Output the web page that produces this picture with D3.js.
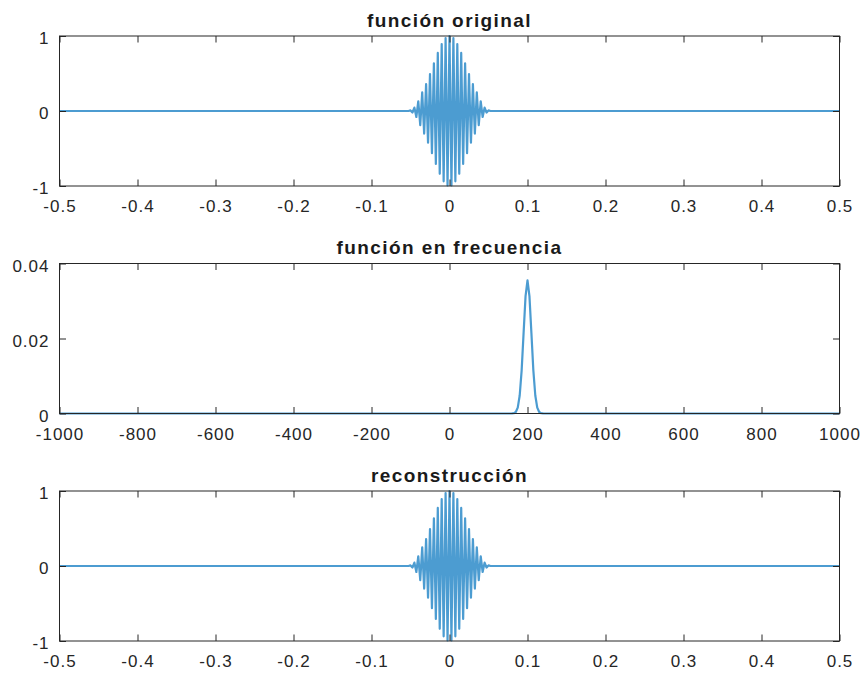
<!DOCTYPE html>
<html>
<head>
<meta charset="utf-8">
<script src="https://cdn.jsdelivr.net/npm/d3@7"></script>
<style>
  html, body { margin: 0; padding: 0; background: #ffffff; }
  svg { display: block; }
  .tick text { font-family: "Liberation Sans", Arial, sans-serif; font-size: 17px; fill: #262626; letter-spacing: 1px; }
  .title { font-family: "Liberation Sans", Arial, sans-serif; font-size: 19px; font-weight: bold; fill: #1a1a1a; letter-spacing: 1.4px; }
</style>
</head>
<body>
<svg id="fig" width="867" height="674"></svg>
<script>
// Time axis (s) of the Gaussian-windowed 200 Hz pulse, flat outside ±0.06 s
const timeSec = [
  -0.5,
  -0.06, -0.0575, -0.055, -0.0525, -0.05, -0.0475, -0.045, -0.0425, -0.04, -0.0375,
  -0.035, -0.0325, -0.03, -0.0275, -0.025, -0.0225, -0.02, -0.0175, -0.015, -0.0125,
  -0.01, -0.0075, -0.005, -0.0025, 0,
  0.0025, 0.005, 0.0075, 0.01, 0.0125, 0.015, 0.0175, 0.02, 0.0225, 0.025,
  0.0275, 0.03, 0.0325, 0.035, 0.0375, 0.04, 0.0425, 0.045, 0.0475, 0.05,
  0.0525, 0.055, 0.0575, 0.06,
  0.5
];

// Original signal amplitude at each time sample
const originalAmp = [
  0,
  0, 0, 0, 0, 0.008, -0.02, 0.045, -0.08, 0.13, -0.19,
  0.249, -0.301, 0.360, -0.423, 0.492, -0.563, 0.635, -0.706, 0.774, -0.837,
  0.893, -0.938, 0.972, -0.993, 1,
  -0.993, 0.972, -0.938, 0.893, -0.837, 0.774, -0.706, 0.635, -0.563, 0.492,
  -0.423, 0.360, -0.301, 0.249, -0.19, 0.13, -0.08, 0.045, -0.02, 0.008,
  0, 0, 0, 0,
  0
];

// Reconstructed signal (inverse transform) at the same time samples
const reconAmp = [
  0,
  0, 0, 0, 0, 0.008, -0.02, 0.045, -0.08, 0.13, -0.19,
  0.249, -0.301, 0.360, -0.423, 0.492, -0.563, 0.635, -0.706, 0.774, -0.837,
  0.893, -0.938, 0.972, -0.993, 1,
  -0.993, 0.972, -0.938, 0.893, -0.837, 0.774, -0.706, 0.635, -0.563, 0.492,
  -0.423, 0.360, -0.301, 0.249, -0.19, 0.13, -0.08, 0.045, -0.02, 0.008,
  0, 0, 0, 0,
  0
];

// Spectrum magnitude (Hz)
const freqHz = [-1000, 150, 155, 160, 165, 170, 175, 180, 185, 190, 195, 200,
  205, 210, 215, 220, 225, 230, 235, 240, 245, 250, 1000];
const spectrumMag = [0, 0, 0, 0.00001, 0.00008, 0.00039, 0.00156, 0.0048, 0.0115, 0.0215, 0.0313, 0.0355,
  0.0313, 0.0215, 0.0115, 0.0048, 0.00156, 0.00039, 0.00008, 0.00001, 0, 0, 0];

// Tick values
const timeTicks = [-0.5, -0.4, -0.3, -0.2, -0.1, 0, 0.1, 0.2, 0.3, 0.4, 0.5];
const ampTicks = [-1, 0, 1];
const freqTicks = [-1000, -800, -600, -400, -200, 0, 200, 400, 600, 800, 1000];
const magTicks = [0, 0.02, 0.04];

const panelTitles = ["función original", "función en frecuencia", "reconstrucción"];

const svg = d3.select("#fig");
const left = 59.5, right = 839.5, plotH = 150;
const tops = [36, 263.5, 491];
const lineColor = "#0072BD";
const axisColor = "#262626";
const tickLen = 6.5;

const fmt = v => String(v);

function panel(i, xs, ys, xDomain, yDomain, xTicks, yTicks) {
  const top = tops[i];
  const x = d3.scaleLinear().domain(xDomain).range([left, right]);
  const y = d3.scaleLinear().domain(yDomain).range([top + plotH, top]);
  const g = svg.append("g");

  // data line
  const pts = xs.map((t, k) => [t, ys[k]]);
  g.append("path")
    .datum(pts)
    .attr("fill", "none")
    .attr("stroke", lineColor)
    .attr("stroke-width", 2.2)
    .attr("stroke-opacity", 0.7)
    .attr("stroke-linejoin", "round")
    .attr("d", d3.line().x(d => x(d[0])).y(d => y(d[1])));

  // axes with inward ticks on all four sides
  const bottomAx = g.append("g").attr("transform", `translate(0,${top + plotH})`)
    .call(d3.axisBottom(x).tickValues(xTicks).tickFormat(fmt).tickSizeInner(-tickLen).tickSizeOuter(0).tickPadding(14));
  const topAx = g.append("g").attr("transform", `translate(0,${top})`)
    .call(d3.axisTop(x).tickValues(xTicks).tickFormat("").tickSizeInner(-tickLen).tickSizeOuter(0));
  const leftAx = g.append("g").attr("transform", `translate(${left},0)`)
    .call(d3.axisLeft(y).tickValues(yTicks).tickFormat(fmt).tickSizeInner(-tickLen).tickSizeOuter(0).tickPadding(10));
  const rightAx = g.append("g").attr("transform", `translate(${right},0)`)
    .call(d3.axisRight(y).tickValues(yTicks).tickFormat("").tickSizeInner(-tickLen).tickSizeOuter(0));

  [bottomAx, topAx, leftAx, rightAx].forEach(a => {
    a.select(".domain").remove();
    a.selectAll(".tick line").attr("stroke", axisColor).attr("stroke-width", 1);
    a.attr("font-family", null).attr("font-size", null);
  });
  bottomAx.selectAll(".tick text").attr("fill", axisColor);
  leftAx.selectAll(".tick text").attr("fill", axisColor).attr("dy", "0.45em");

  // box
  g.append("rect")
    .attr("x", left).attr("y", top)
    .attr("width", right - left).attr("height", plotH)
    .attr("fill", "none").attr("stroke", axisColor).attr("stroke-width", 1);

  // title
  g.append("text").attr("class", "title")
    .attr("x", (left + right) / 2).attr("y", top - 9.5)
    .attr("text-anchor", "middle")
    .text(panelTitles[i]);
}

panel(0, timeSec, originalAmp, [-0.5, 0.5], [-1, 1], timeTicks, ampTicks);
panel(1, freqHz, spectrumMag, [-1000, 1000], [0, 0.04], freqTicks, magTicks);
panel(2, timeSec, reconAmp, [-0.5, 0.5], [-1, 1], timeTicks, ampTicks);
</script>
</body>
</html>
